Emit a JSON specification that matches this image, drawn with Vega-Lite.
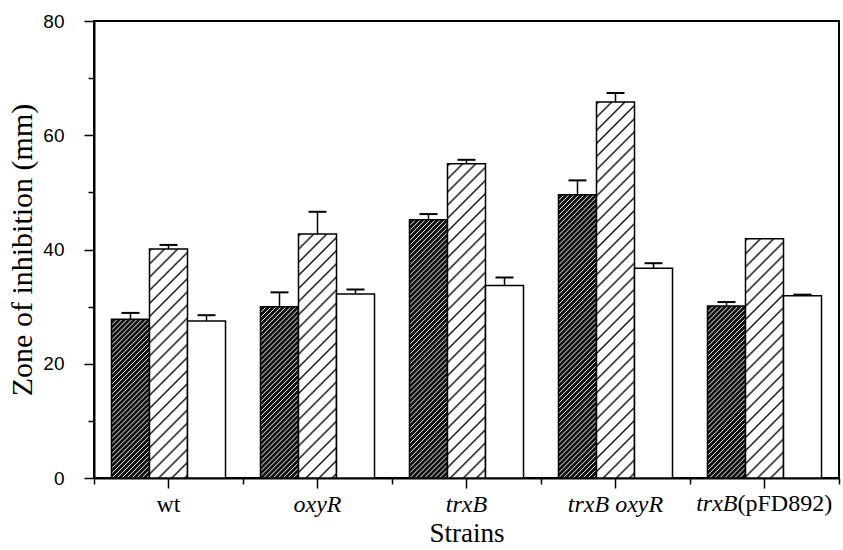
{
  "$schema": "https://vega.github.io/schema/vega-lite/v6.json",
  "width": 745,
  "height": 457,
  "autosize": {"type": "none"},
  "padding": {"left": 94, "top": 21, "right": 4, "bottom": 72},
  "background": "white",
  "config": {
    "view": {"stroke": "black", "strokeWidth": 2},
    "axis": {"domainColor": "black", "tickColor": "black", "labelColor": "black", "titleColor": "black", "grid": false}
  },
  "params": [
    {"name": "dense", "value": [
      {"offset":0,"color":"#111"},{"offset":0.003,"color":"#eee"},{"offset":0.006,"color":"#111"},
      {"offset":0.015,"color":"#111"},{"offset":0.018,"color":"#eee"},{"offset":0.021,"color":"#111"},
      {"offset":0.03,"color":"#111"},{"offset":0.033,"color":"#eee"},{"offset":0.036,"color":"#111"},
      {"offset":0.045,"color":"#111"},{"offset":0.048,"color":"#eee"},{"offset":0.051,"color":"#111"},
      {"offset":0.06,"color":"#111"},{"offset":0.063,"color":"#eee"},{"offset":0.066,"color":"#111"},
      {"offset":0.075,"color":"#111"},{"offset":0.078,"color":"#eee"},{"offset":0.081,"color":"#111"},
      {"offset":0.09,"color":"#111"},{"offset":0.093,"color":"#eee"},{"offset":0.096,"color":"#111"},
      {"offset":0.105,"color":"#111"},{"offset":0.108,"color":"#eee"},{"offset":0.111,"color":"#111"},
      {"offset":0.12,"color":"#111"},{"offset":0.123,"color":"#eee"},{"offset":0.126,"color":"#111"},
      {"offset":0.135,"color":"#111"},{"offset":0.138,"color":"#eee"},{"offset":0.141,"color":"#111"},
      {"offset":0.15,"color":"#111"},{"offset":0.153,"color":"#eee"},{"offset":0.156,"color":"#111"},
      {"offset":0.165,"color":"#111"},{"offset":0.168,"color":"#eee"},{"offset":0.171,"color":"#111"},
      {"offset":0.18,"color":"#111"},{"offset":0.183,"color":"#eee"},{"offset":0.186,"color":"#111"},
      {"offset":0.195,"color":"#111"},{"offset":0.198,"color":"#eee"},{"offset":0.201,"color":"#111"},
      {"offset":0.21,"color":"#111"},{"offset":0.213,"color":"#eee"},{"offset":0.216,"color":"#111"},
      {"offset":0.225,"color":"#111"},{"offset":0.228,"color":"#eee"},{"offset":0.231,"color":"#111"},
      {"offset":0.24,"color":"#111"},{"offset":0.243,"color":"#eee"},{"offset":0.246,"color":"#111"},
      {"offset":0.255,"color":"#111"},{"offset":0.258,"color":"#eee"},{"offset":0.261,"color":"#111"},
      {"offset":0.27,"color":"#111"},{"offset":0.273,"color":"#eee"},{"offset":0.276,"color":"#111"},
      {"offset":0.285,"color":"#111"},{"offset":0.288,"color":"#eee"},{"offset":0.291,"color":"#111"},
      {"offset":0.3,"color":"#111"},{"offset":0.303,"color":"#eee"},{"offset":0.306,"color":"#111"},
      {"offset":0.315,"color":"#111"},{"offset":0.318,"color":"#eee"},{"offset":0.321,"color":"#111"},
      {"offset":0.33,"color":"#111"},{"offset":0.333,"color":"#eee"},{"offset":0.336,"color":"#111"},
      {"offset":0.345,"color":"#111"},{"offset":0.348,"color":"#eee"},{"offset":0.351,"color":"#111"},
      {"offset":0.36,"color":"#111"},{"offset":0.363,"color":"#eee"},{"offset":0.366,"color":"#111"},
      {"offset":0.375,"color":"#111"},{"offset":0.378,"color":"#eee"},{"offset":0.381,"color":"#111"},
      {"offset":0.39,"color":"#111"},{"offset":0.393,"color":"#eee"},{"offset":0.396,"color":"#111"},
      {"offset":0.405,"color":"#111"},{"offset":0.408,"color":"#eee"},{"offset":0.411,"color":"#111"},
      {"offset":0.42,"color":"#111"},{"offset":0.423,"color":"#eee"},{"offset":0.426,"color":"#111"},
      {"offset":0.435,"color":"#111"},{"offset":0.438,"color":"#eee"},{"offset":0.441,"color":"#111"},
      {"offset":0.45,"color":"#111"},{"offset":0.453,"color":"#eee"},{"offset":0.456,"color":"#111"},
      {"offset":0.465,"color":"#111"},{"offset":0.468,"color":"#eee"},{"offset":0.471,"color":"#111"},
      {"offset":0.48,"color":"#111"},{"offset":0.483,"color":"#eee"},{"offset":0.486,"color":"#111"},
      {"offset":0.495,"color":"#111"},{"offset":0.498,"color":"#eee"},{"offset":0.501,"color":"#111"},
      {"offset":0.51,"color":"#111"},{"offset":0.513,"color":"#eee"},{"offset":0.516,"color":"#111"},
      {"offset":0.525,"color":"#111"},{"offset":0.528,"color":"#eee"},{"offset":0.531,"color":"#111"},
      {"offset":0.54,"color":"#111"},{"offset":0.543,"color":"#eee"},{"offset":0.546,"color":"#111"},
      {"offset":0.555,"color":"#111"},{"offset":0.558,"color":"#eee"},{"offset":0.561,"color":"#111"},
      {"offset":0.57,"color":"#111"},{"offset":0.573,"color":"#eee"},{"offset":0.576,"color":"#111"},
      {"offset":0.585,"color":"#111"},{"offset":0.588,"color":"#eee"},{"offset":0.591,"color":"#111"},
      {"offset":0.6,"color":"#111"},{"offset":0.603,"color":"#eee"},{"offset":0.606,"color":"#111"},
      {"offset":0.615,"color":"#111"},{"offset":0.618,"color":"#eee"},{"offset":0.621,"color":"#111"},
      {"offset":0.63,"color":"#111"},{"offset":0.633,"color":"#eee"},{"offset":0.636,"color":"#111"},
      {"offset":0.645,"color":"#111"},{"offset":0.648,"color":"#eee"},{"offset":0.651,"color":"#111"},
      {"offset":0.66,"color":"#111"},{"offset":0.663,"color":"#eee"},{"offset":0.666,"color":"#111"},
      {"offset":0.675,"color":"#111"},{"offset":0.678,"color":"#eee"},{"offset":0.681,"color":"#111"},
      {"offset":0.69,"color":"#111"},{"offset":0.693,"color":"#eee"},{"offset":0.696,"color":"#111"},
      {"offset":0.705,"color":"#111"},{"offset":0.708,"color":"#eee"},{"offset":0.711,"color":"#111"},
      {"offset":0.72,"color":"#111"},{"offset":0.723,"color":"#eee"},{"offset":0.726,"color":"#111"},
      {"offset":0.735,"color":"#111"},{"offset":0.738,"color":"#eee"},{"offset":0.741,"color":"#111"},
      {"offset":0.75,"color":"#111"},{"offset":0.753,"color":"#eee"},{"offset":0.756,"color":"#111"},
      {"offset":0.765,"color":"#111"},{"offset":0.768,"color":"#eee"},{"offset":0.771,"color":"#111"},
      {"offset":0.78,"color":"#111"},{"offset":0.783,"color":"#eee"},{"offset":0.786,"color":"#111"},
      {"offset":0.795,"color":"#111"},{"offset":0.798,"color":"#eee"},{"offset":0.801,"color":"#111"},
      {"offset":0.81,"color":"#111"},{"offset":0.813,"color":"#eee"},{"offset":0.816,"color":"#111"},
      {"offset":0.825,"color":"#111"},{"offset":0.828,"color":"#eee"},{"offset":0.831,"color":"#111"},
      {"offset":0.84,"color":"#111"},{"offset":0.843,"color":"#eee"},{"offset":0.846,"color":"#111"},
      {"offset":0.855,"color":"#111"},{"offset":0.858,"color":"#eee"},{"offset":0.861,"color":"#111"},
      {"offset":0.87,"color":"#111"},{"offset":0.873,"color":"#eee"},{"offset":0.876,"color":"#111"},
      {"offset":0.885,"color":"#111"},{"offset":0.888,"color":"#eee"},{"offset":0.891,"color":"#111"},
      {"offset":0.9,"color":"#111"},{"offset":0.903,"color":"#eee"},{"offset":0.906,"color":"#111"},
      {"offset":0.915,"color":"#111"},{"offset":0.918,"color":"#eee"},{"offset":0.921,"color":"#111"},
      {"offset":0.93,"color":"#111"},{"offset":0.933,"color":"#eee"},{"offset":0.936,"color":"#111"},
      {"offset":0.945,"color":"#111"},{"offset":0.948,"color":"#eee"},{"offset":0.951,"color":"#111"},
      {"offset":0.96,"color":"#111"},{"offset":0.963,"color":"#eee"},{"offset":0.966,"color":"#111"},
      {"offset":0.975,"color":"#111"},{"offset":0.978,"color":"#eee"},{"offset":0.981,"color":"#111"},
      {"offset":0.99,"color":"#111"},{"offset":0.993,"color":"#eee"},{"offset":0.996,"color":"#111"},
      {"offset":1,"color":"#111"}
    ]},
    {"name": "hatch", "value": [
      {"offset":0,"color":"#fff"},{"offset":0.0048,"color":"#111"},{"offset":0.0096,"color":"#fff"},
      {"offset":0.03125,"color":"#fff"},{"offset":0.03605,"color":"#111"},{"offset":0.04085,"color":"#fff"},
      {"offset":0.0625,"color":"#fff"},{"offset":0.0673,"color":"#111"},{"offset":0.0721,"color":"#fff"},
      {"offset":0.09375,"color":"#fff"},{"offset":0.09855,"color":"#111"},{"offset":0.10335,"color":"#fff"},
      {"offset":0.125,"color":"#fff"},{"offset":0.1298,"color":"#111"},{"offset":0.1346,"color":"#fff"},
      {"offset":0.15625,"color":"#fff"},{"offset":0.16105,"color":"#111"},{"offset":0.16585,"color":"#fff"},
      {"offset":0.1875,"color":"#fff"},{"offset":0.1923,"color":"#111"},{"offset":0.1971,"color":"#fff"},
      {"offset":0.21875,"color":"#fff"},{"offset":0.22355,"color":"#111"},{"offset":0.22835,"color":"#fff"},
      {"offset":0.25,"color":"#fff"},{"offset":0.2548,"color":"#111"},{"offset":0.2596,"color":"#fff"},
      {"offset":0.28125,"color":"#fff"},{"offset":0.28605,"color":"#111"},{"offset":0.29085,"color":"#fff"},
      {"offset":0.3125,"color":"#fff"},{"offset":0.3173,"color":"#111"},{"offset":0.3221,"color":"#fff"},
      {"offset":0.34375,"color":"#fff"},{"offset":0.34855,"color":"#111"},{"offset":0.35335,"color":"#fff"},
      {"offset":0.375,"color":"#fff"},{"offset":0.3798,"color":"#111"},{"offset":0.3846,"color":"#fff"},
      {"offset":0.40625,"color":"#fff"},{"offset":0.41105,"color":"#111"},{"offset":0.41585,"color":"#fff"},
      {"offset":0.4375,"color":"#fff"},{"offset":0.4423,"color":"#111"},{"offset":0.4471,"color":"#fff"},
      {"offset":0.46875,"color":"#fff"},{"offset":0.47355,"color":"#111"},{"offset":0.47835,"color":"#fff"},
      {"offset":0.5,"color":"#fff"},{"offset":0.5048,"color":"#111"},{"offset":0.5096,"color":"#fff"},
      {"offset":0.53125,"color":"#fff"},{"offset":0.53605,"color":"#111"},{"offset":0.54085,"color":"#fff"},
      {"offset":0.5625,"color":"#fff"},{"offset":0.5673,"color":"#111"},{"offset":0.5721,"color":"#fff"},
      {"offset":0.59375,"color":"#fff"},{"offset":0.59855,"color":"#111"},{"offset":0.60335,"color":"#fff"},
      {"offset":0.625,"color":"#fff"},{"offset":0.6298,"color":"#111"},{"offset":0.6346,"color":"#fff"},
      {"offset":0.65625,"color":"#fff"},{"offset":0.66105,"color":"#111"},{"offset":0.66585,"color":"#fff"},
      {"offset":0.6875,"color":"#fff"},{"offset":0.6923,"color":"#111"},{"offset":0.6971,"color":"#fff"},
      {"offset":0.71875,"color":"#fff"},{"offset":0.72355,"color":"#111"},{"offset":0.72835,"color":"#fff"},
      {"offset":0.75,"color":"#fff"},{"offset":0.7548,"color":"#111"},{"offset":0.7596,"color":"#fff"},
      {"offset":0.78125,"color":"#fff"},{"offset":0.78605,"color":"#111"},{"offset":0.79085,"color":"#fff"},
      {"offset":0.8125,"color":"#fff"},{"offset":0.8173,"color":"#111"},{"offset":0.8221,"color":"#fff"},
      {"offset":0.84375,"color":"#fff"},{"offset":0.84855,"color":"#111"},{"offset":0.85335,"color":"#fff"},
      {"offset":0.875,"color":"#fff"},{"offset":0.8798,"color":"#111"},{"offset":0.8846,"color":"#fff"},
      {"offset":0.90625,"color":"#fff"},{"offset":0.91105,"color":"#111"},{"offset":0.91585,"color":"#fff"},
      {"offset":0.9375,"color":"#fff"},{"offset":0.9423,"color":"#111"},{"offset":0.9471,"color":"#fff"},
      {"offset":0.96875,"color":"#fff"},{"offset":0.97355,"color":"#111"},{"offset":0.97835,"color":"#fff"},
      {"offset":1,"color":"#fff"}
    ]}
  ],
  "data": {"values": [
    {"strain":"wt","series":"A","mean":27.8,"upper":28.9},
    {"strain":"wt","series":"B","mean":40.1,"upper":40.8},
    {"strain":"wt","series":"C","mean":27.5,"upper":28.5},
    {"strain":"oxyR","series":"A","mean":30.0,"upper":32.5},
    {"strain":"oxyR","series":"B","mean":42.7,"upper":46.6},
    {"strain":"oxyR","series":"C","mean":32.2,"upper":33.0},
    {"strain":"trxB","series":"A","mean":45.2,"upper":46.2},
    {"strain":"trxB","series":"B","mean":55.0,"upper":55.7},
    {"strain":"trxB","series":"C","mean":33.7,"upper":35.1},
    {"strain":"trxB oxyR","series":"A","mean":49.6,"upper":52.1},
    {"strain":"trxB oxyR","series":"B","mean":65.8,"upper":67.4},
    {"strain":"trxB oxyR","series":"C","mean":36.7,"upper":37.6},
    {"strain":"trxB(pFD892)","series":"A","mean":30.1,"upper":30.8},
    {"strain":"trxB(pFD892)","series":"B","mean":41.9,"upper":null},
    {"strain":"trxB(pFD892)","series":"C","mean":31.9,"upper":32.1}
  ]},
  "resolve": {"axis": {"x": "independent", "y": "independent"}},
  "encoding": {
    "x": {
      "field": "strain", "type": "nominal",
      "sort": ["wt", "oxyR", "trxB", "trxB oxyR", "trxB(pFD892)"],
      "scale": {"paddingInner": 0, "paddingOuter": 0},
      "axis": null
    }
  },
  "layer": [
    {
      "mark": {
        "type": "bar", "stroke": "black", "strokeWidth": 1.5,
        "fill": {"expr": "datum.series === 'C' ? '#ffffff' : {gradient: 'linear', x1: 0, y1: 0, x2: bandwidth('xOffset') * (datum.series === 'A' ? 330 : 420) / (pow(bandwidth('xOffset'), 2) + pow(scale('y', 0) - scale('y', datum.mean), 2)), y2: (scale('y', 0) - scale('y', datum.mean)) * (datum.series === 'A' ? 330 : 420) / (pow(bandwidth('xOffset'), 2) + pow(scale('y', 0) - scale('y', datum.mean), 2)), stops: datum.series === 'A' ? dense : hatch}"}
      },
      "encoding": {
        "x": {
          "field": "strain", "type": "nominal",
          "sort": ["wt", "oxyR", "trxB", "trxB oxyR", "trxB(pFD892)"],
          "scale": {"paddingInner": 0, "paddingOuter": 0},
          "axis": {
            "orient": "bottom",
            "title": "Strains", "titleFont": "Liberation Serif", "titleFontSize": 27, "titleFontWeight": "normal", "titlePadding": 4,
            "labelFont": "Liberation Serif", "labelFontSize": 24, "labelAngle": 0, "labelPadding": 4,
            "labelExpr": "datum.value === 'trxB(pFD892)' ? '' : datum.value",
            "labelFontStyle": {"condition": {"test": "datum.value === 'wt'", "value": "normal"}, "value": "italic"},
            "tickSize": 10, "tickWidth": 1.5, "domainWidth": 2
          }
        },
        "xOffset": {"field": "series", "type": "nominal", "sort": ["A", "B", "C"], "scale": {"paddingInner": 0, "paddingOuter": 0.46}},
        "y": {
          "field": "mean", "type": "quantitative",
          "scale": {"domain": [0, 80], "nice": false},
          "axis": {
            "orient": "left",
            "values": [0, 20, 40, 60, 80],
            "title": "Zone of inhibition (mm)", "titleFont": "Liberation Serif", "titleFontSize": 30, "titleFontWeight": "normal", "titlePadding": 5,
            "labelFont": "Liberation Sans", "labelFontSize": 19, "labelPadding": 20,
            "tickSize": 10, "tickWidth": 1.5, "domainWidth": 2
          }
        }
      }
    },
    {
      "transform": [{"filter": "datum.upper != null"}],
      "mark": {"type": "rule", "strokeWidth": 1.5, "color": "black"},
      "encoding": {
        "xOffset": {"field": "series", "type": "nominal", "sort": ["A", "B", "C"]},
        "y": {
          "field": "mean", "type": "quantitative",
          "axis": {"orient": "left", "values": [10, 30, 50, 70], "labels": false, "domain": false, "title": null, "tickSize": 6, "tickWidth": 1.5, "tickColor": "black"}
        },
        "y2": {"field": "upper"}
      }
    },
    {
      "transform": [{"filter": "datum.upper != null"}],
      "mark": {"type": "tick", "thickness": 2, "size": 18, "color": "black", "opacity": 1},
      "encoding": {
        "xOffset": {"field": "series", "type": "nominal", "sort": ["A", "B", "C"]},
        "y": {"field": "upper", "type": "quantitative", "axis": null}
      }
    },
    {
      "transform": [{"filter": "datum.strain === 'trxB(pFD892)' && datum.series === 'A'"}],
      "mark": {"type": "text", "text": "trxB", "font": "Liberation Serif", "fontSize": 24, "fontStyle": "italic", "align": "right", "baseline": "top", "dx": -27, "dy": 14, "color": "black"},
      "encoding": {
        "x": {
          "field": "strain", "type": "nominal",
          "sort": ["wt", "oxyR", "trxB", "trxB oxyR", "trxB(pFD892)"],
          "axis": {"orient": "bottom", "tickBand": "extent", "labels": false, "domain": false, "title": null, "tickSize": 6, "tickWidth": 1.5, "tickColor": "black"}
        },
        "y": {"datum": 0, "type": "quantitative", "axis": null}
      }
    },
    {
      "transform": [{"filter": "datum.strain === 'trxB(pFD892)' && datum.series === 'A'"}],
      "mark": {"type": "text", "text": "(pFD892)", "font": "Liberation Serif", "fontSize": 24, "align": "left", "baseline": "top", "dx": -27, "dy": 14, "color": "black"},
      "encoding": {
        "y": {"datum": 0, "type": "quantitative", "axis": null}
      }
    }
  ]
}
